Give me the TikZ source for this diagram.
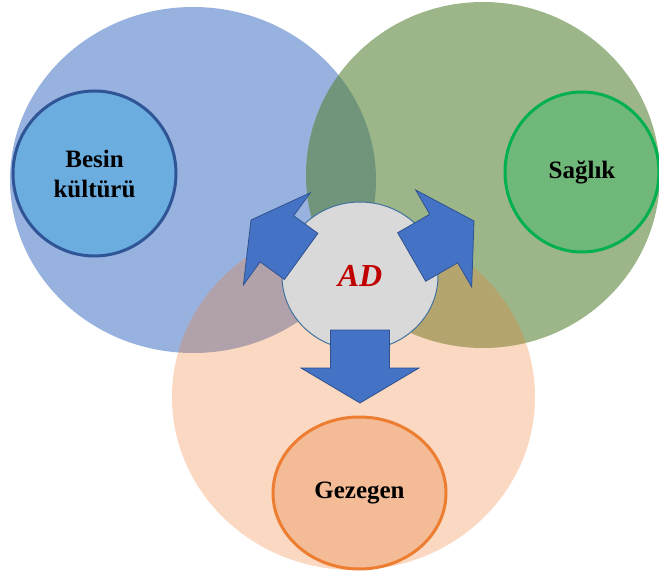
\documentclass[tikz,border=0pt]{standalone}
\usepackage{fontspec}
\setmainfont{Liberation Serif}
\usetikzlibrary{shapes.geometric}
\definecolor{bigblue}{HTML}{4472C4}
\definecolor{biggreen}{HTML}{548235}
\definecolor{bigorange}{HTML}{ED7D31}
\definecolor{besinfill}{HTML}{6CADE0}
\definecolor{besinedge}{HTML}{2F5597}
\definecolor{saglikfill}{HTML}{70B77A}
\definecolor{saglikedge}{HTML}{00B050}
\definecolor{gezfill}{HTML}{F4BC96}
\definecolor{gezedge}{HTML}{ED7D31}
\definecolor{adfill}{HTML}{D9D9D9}
\definecolor{adedge}{HTML}{41719C}
\definecolor{adred}{HTML}{C00000}
\definecolor{arrowblue}{HTML}{4472C4}
\definecolor{arrowedge}{HTML}{2F528F}
\begin{document}
\begin{tikzpicture}[x=1pt,y=1pt,
  big/.style={ellipse, inner sep=0pt, draw=none},
  small/.style={ellipse, inner sep=0pt, line width=3pt, align=center, text=black,
    font=\bfseries\fontsize{25}{30}\selectfont},
  blockarrow/.style={fill=arrowblue, draw=arrowedge, line width=0.8pt, line join=miter}]
\useasboundingbox (0,0) rectangle (659,574);
% big circles
\node[big, fill=bigblue, fill opacity=0.55, minimum width=366pt, minimum height=346pt] (bluebig) at (193,394) {};
\node[big, fill=biggreen, fill opacity=0.58, minimum width=354pt, minimum height=346pt] (greenbig) at (483,399) {};
\node[big, fill=bigorange, fill opacity=0.30, minimum width=363pt, minimum height=346pt] (orangebig) at (353.5,177) {};
% small circles
\node[small, fill=besinfill, draw=besinedge, minimum width=163pt, minimum height=165pt] (besin) at (94.5,400.5) {Besin\\kültürü};
\node[small, fill=saglikfill, draw=saglikedge, minimum width=154pt, minimum height=160pt] (saglik) at (582,402) {Sağlık};
\node[small, fill=gezfill, draw=gezedge, minimum width=173pt, minimum height=152pt] (gezegen) at (359.5,81) {Gezegen};
% central circle with text
\node[ellipse, inner sep=0pt, fill=adfill, draw=adedge, line width=1pt, minimum width=156pt, minimum height=148pt,
  text=adred, font=\bfseries\itshape\fontsize{32}{38}\selectfont] (ad) at (360,298) {\raisebox{-4pt}{AD}};
% block arrows
\draw[blockarrow, shift={(360,171)}, rotate=-90] (0,0) -- (-35,59) -- (-35,29.5) -- (-73,29.5) -- (-73,-29.5) -- (-35,-29.5) -- (-35,-59) -- cycle;
\draw[blockarrow, shift={(251,354)}, rotate=144] (0,0) -- (-32,57) -- (-32,28.5) -- (-62,28.5) -- (-62,-28.5) -- (-32,-28.5) -- (-32,-57) -- cycle;
\draw[blockarrow, shift={(474,353)}, rotate=30] (0,0) -- (-35,56) -- (-35,28) -- (-72,28) -- (-72,-28) -- (-35,-28) -- (-35,-56) -- cycle;
\end{tikzpicture}
\end{document}
